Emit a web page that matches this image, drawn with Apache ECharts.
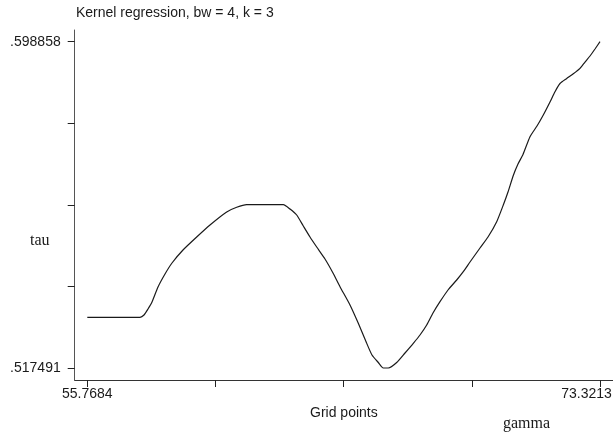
<!DOCTYPE html>
<html>
<head>
<meta charset="utf-8">
<script src="https://cdn.jsdelivr.net/npm/echarts@6/dist/echarts.min.js"></script>
<style>
html,body{margin:0;padding:0;background:#fff;}
#chart{width:613px;height:440px;}
</style>
</head>
<body>
<div id="chart"></div>
<script>
// Grid points (gamma) and kernel regression estimates (tau)
const gridX = [55.7684, 56.2032, 56.8879, 57.5726, 57.7096, 57.8465, 57.9835, 58.1889, 58.4285, 58.6682,
  59.0448, 59.5138, 59.9692, 60.5409, 60.8833, 61.2256, 61.6810, 62.4787, 62.7080, 62.9374,
  63.1634, 63.3928, 63.6221, 63.9063, 64.1802, 64.4198, 64.7622, 65.0464, 65.3339, 65.5154,
  65.7311, 65.9023, 66.0734, 66.3610, 66.6452, 66.9293, 67.1587, 67.3881, 67.6038, 67.8434,
  68.1173, 68.4152, 68.6411, 68.8705, 69.2129, 69.4868, 69.7846, 70.0106, 70.1715, 70.3529,
  70.5138, 70.6850, 70.9247, 71.1643, 71.3800, 71.6094, 71.7806, 71.9518, 72.1811, 72.3968,
  72.6365, 72.8077, 72.9788, 73.1500, 73.3213];
const tauY = [0.530134, 0.530134, 0.530134, 0.530134, 0.530707, 0.532203, 0.533949, 0.537689, 0.540931, 0.543674,
  0.546915, 0.550157, 0.553149, 0.556391, 0.557563, 0.558220, 0.558220, 0.558220, 0.557139, 0.555643,
  0.552900, 0.550157, 0.547664, 0.544671, 0.541180, 0.537764, 0.533201, 0.528637, 0.523650, 0.520733,
  0.518862, 0.517491, 0.517491, 0.518862, 0.521231, 0.523650, 0.525720, 0.528213, 0.531206, 0.534024,
  0.536941, 0.539435, 0.541504, 0.543923, 0.547414, 0.550157, 0.553972, 0.558137, 0.561378, 0.565500,
  0.568360, 0.570729, 0.575168, 0.577836, 0.580579, 0.583821, 0.586389, 0.588434, 0.589681, 0.590803,
  0.592224, 0.593795, 0.595291, 0.597037, 0.598858];

const xTicks = [55.7684, 60.156625, 64.54485, 68.933075, 73.3213];
const xTickLabels = ['55.7684', '', '', '', '73.3213'];
const yTicks = [0.517491, 0.53783275, 0.5581745, 0.57851625, 0.598858];
const yTickLabels = ['.517491', '', '', '', '.598858'];

const titleText = 'Kernel regression, bw = 4, k = 3';
const xAxisName = 'Grid points';
const yNote = 'tau';
const xNote = 'gamma';

function labelFor(ticks, labels, v) {
  let best = 0, bd = Infinity;
  ticks.forEach((t, i) => { const d = Math.abs(t - v); if (d < bd) { bd = d; best = i; } });
  return labels[best];
}

const chart = echarts.init(document.getElementById('chart'), null, {renderer: 'canvas'});
const sans = 'Liberation Sans, Arial, Helvetica, sans-serif';
const serif = 'Liberation Serif, Times New Roman, serif';
const ink = '#1a1a1a';

chart.setOption({
  animation: false,
  backgroundColor: '#ffffff',
  title: [
    {text: titleText, left: 76, top: 6, padding: 0, textStyle: {fontFamily: sans, fontSize: 14, fontWeight: 'normal', color: ink}},
    {text: yNote, left: 30, top: 233, padding: 0, textStyle: {fontFamily: serif, fontSize: 16, fontWeight: 'normal', color: ink}},
    {text: xNote, left: 503, top: 416, padding: 0, textStyle: {fontFamily: serif, fontSize: 16, fontWeight: 'normal', color: ink}}
  ],
  grid: {left: 74.7, right: 0, top: 30, bottom: 60, containLabel: false, outerBoundsMode: 'none'},
  xAxis: {
    type: 'value',
    min: 55.337, max: 73.7664,
    name: xAxisName,
    nameLocation: 'middle',
    nameGap: 20,
    nameTextStyle: {fontFamily: sans, fontSize: 14, color: ink},
    axisLine: {show: true, lineStyle: {color: '#333', width: 1}},
    axisTick: {show: true, customValues: xTicks, length: 7, lineStyle: {color: '#222', width: 1}},
    axisLabel: {
      show: true, customValues: [xTicks[0], xTicks[4]], margin: 7,
      fontFamily: sans, fontSize: 14, color: ink,
      formatter: function (v) {
        const s = labelFor(xTicks, xTickLabels, v);
        return Math.abs(v - xTicks[4]) < 1e-6 ? '{mx|' + s + '}' : s;
      },
      rich: {mx: {fontFamily: sans, fontSize: 14, color: ink, padding: [0, 27, 0, 0]}}
    },
    splitLine: {show: false}
  },
  yAxis: {
    type: 'value',
    min: 0.514499, max: 0.601776,
    axisLine: {show: true, lineStyle: {color: '#555', width: 1}},
    axisTick: {show: true, customValues: yTicks, length: 7, lineStyle: {color: '#222', width: 1}},
    axisLabel: {
      show: true, customValues: [yTicks[0], yTicks[4]], margin: 14,
      fontFamily: sans, fontSize: 14, color: ink,
      formatter: function (v) { return labelFor(yTicks, yTickLabels, v); }
    },
    splitLine: {show: false}
  },
  series: [{
    type: 'line',
    data: gridX.map((x, i) => [x, tauY[i]]),
    showSymbol: false,
    symbol: 'none',
    smooth: 0.2,
    lineStyle: {color: '#1a1a1a', width: 1.2},
    clip: false
  }]
});
</script>
</body>
</html>
